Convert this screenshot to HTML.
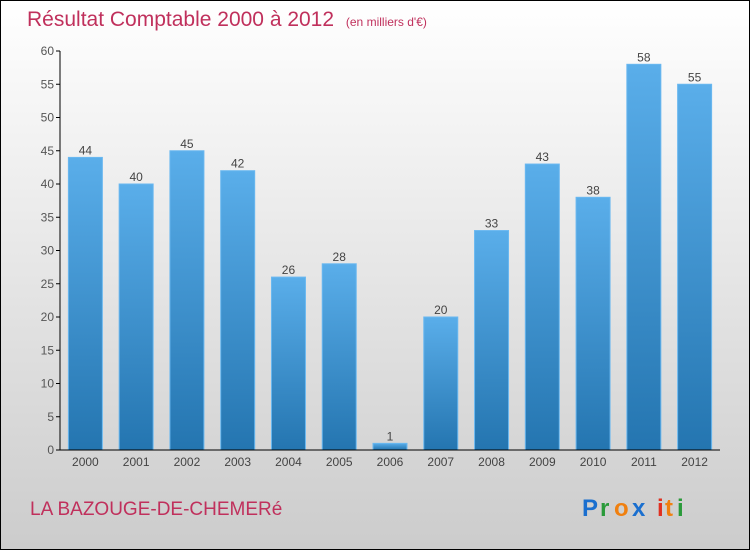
<!DOCTYPE html>
<html><head><meta charset="utf-8"><style>
body{margin:0;width:750px;height:550px;overflow:hidden}
svg{display:block;font-family:"Liberation Sans",sans-serif}
</style></head><body>
<svg id="c" width="750" height="550" viewBox="0 0 750 550">
<defs>
<linearGradient id="bg" x1="0" y1="0" x2="0" y2="1"><stop offset="0" stop-color="#ffffff"/><stop offset="1" stop-color="#cccccc"/></linearGradient>
<linearGradient id="bar" x1="0" y1="0" x2="0" y2="1"><stop offset="0" stop-color="#5aaeea"/><stop offset="1" stop-color="#2475b0"/></linearGradient>
</defs>
<rect x="0.5" y="0.5" width="749" height="549" fill="url(#bg)" stroke="#000"/>
<text x="27" y="26" font-size="21" fill="#c0305c">Résultat Comptable 2000 à 2012 <tspan font-size="12" dx="6">(en milliers d'€)</tspan></text>
<text x="30" y="515" font-size="19" fill="#c0305c">LA BAZOUGE-DE-CHEMERé</text>
<g font-size="24" font-weight="bold">
<text x="582" y="516" fill="#1a6fcf">P</text><text x="600" y="516" fill="#2a9a3a">r</text><text x="614" y="516" fill="#f08010">o</text><text x="632" y="516" fill="#1a6fcf">x</text><text x="657" y="516" fill="#e03020">i</text><text x="665" y="516" fill="#f08010">t</text><text x="677" y="516" fill="#2a9a3a">i</text>
</g>
<g id="plot"></g>
</svg>
<script>
const categories=["2000","2001","2002","2003","2004","2005","2006","2007","2008","2009","2010","2011","2012"];
const values=[44,40,45,42,26,28,1,20,33,43,38,58,55];
const yTicks=[0,5,10,15,20,25,30,35,40,45,50,55,60];
const NS="http://www.w3.org/2000/svg";
const g=document.getElementById('plot');
const x0=60,x1=720,yB=450,yT=51,yMax=60;
const band=(x1-x0)/categories.length;
const y=v=>yB-(v/yMax)*(yB-yT);
const xc=i=>x0+band*(i+0.5);
function mk(t,a,txt){const e=document.createElementNS(NS,t);for(const k in a)e.setAttribute(k,a[k]);if(txt!==undefined)e.textContent=txt;g.appendChild(e);return e;}
yTicks.forEach(t=>{
 const l=mk('line',{x1:x0-4,x2:x0,y1:y(t),y2:y(t),stroke:'#000'});
 
 
 const tx=mk('text',{x:x0-6,y:y(t)+4,'font-size':12,fill:'#555','text-anchor':'end'},t);
 
 
});
categories.forEach((c,i)=>{
 const v=values[i],bw=34;
 const r=mk('rect',{x:xc(i)-bw/2,y:y(v),width:bw,height:yB-y(v),fill:'url(#bar)',stroke:'#6ab8f0','stroke-width':1});
 
 
 const vl=mk('text',{x:xc(i),y:y(v)-3,'font-size':12,fill:'#444','text-anchor':'middle'},v);
 
 
 const xl=mk('text',{x:xc(i),y:yB+16,'font-size':12,fill:'#444','text-anchor':'middle'},c);
 
 
});
const ya=mk('line',{x1:x0,x2:x0,y1:yT,y2:yB,stroke:'#000'});


const xa=mk('line',{x1:x0,x2:x1,y1:yB,y2:yB,stroke:'#000'});


</script>
</body></html>
